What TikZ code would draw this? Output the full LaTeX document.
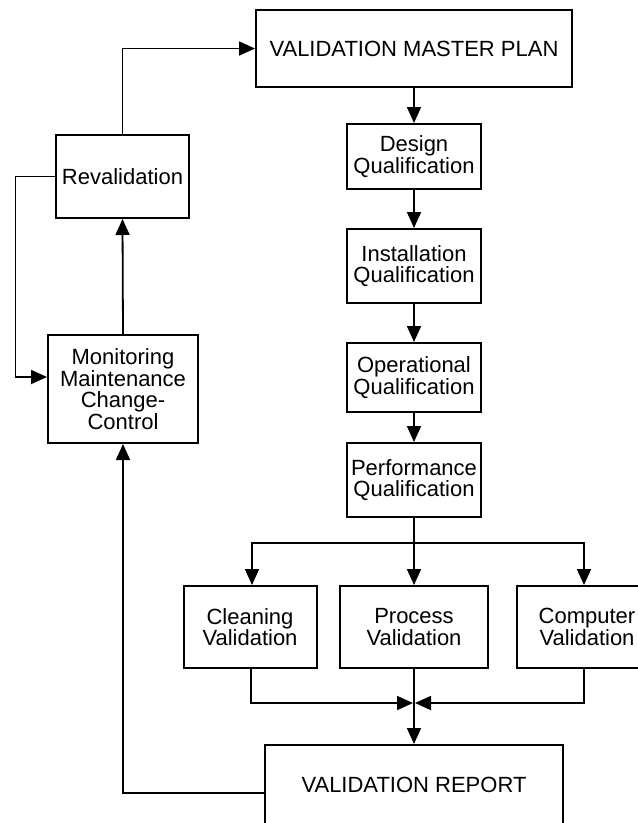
\documentclass[tikz,border=0pt]{standalone}
\usepackage{fontspec}
\setmainfont{Liberation Sans}
\usetikzlibrary{arrows.meta}
\begin{document}
\begin{tikzpicture}[x=1pt,y=-1pt,
  box/.style={draw, line width=2pt, align=center, inner sep=0pt, font=\fontsize{22}{21.5}\selectfont},
  conn/.style={line width=1.8pt},
  arr/.style={conn, -{Triangle[length=16pt,width=14pt]}}]
\useasboundingbox (0,0) rectangle (638,823);
\clip (0,0) rectangle (638,823);
\fill[white] (0,0) rectangle (638,823);

\node[box, minimum width=316pt, minimum height=77pt] (vmp) at (414,48.5) {VALIDATION MASTER PLAN};
\node[box, minimum width=134pt, minimum height=65pt] (dq) at (414,156.5) {Design\\Qualification};
\node[box, minimum width=134pt, minimum height=74pt] (iq) at (414,266) {Installation\\Qualification};
\node[box, minimum width=134pt, minimum height=69pt] (oq) at (414,377.5) {Operational\\Qualification};
\node[box, minimum width=134pt, minimum height=74pt] (pq) at (414,480) {Performance\\Qualification};

\node[box, minimum width=133pt, minimum height=83pt] (reval) at (122.5,176.5) {Revalidation};
\node[box, minimum width=150pt, minimum height=108pt] (mon) at (123,389) {Monitoring\\Maintenance\\Change-\\Control};

\node[box, minimum width=133pt, minimum height=82pt] (clean) at (250,627) {Cleaning\\Validation};
\node[box, minimum width=148pt, minimum height=82pt] (proc) at (414,627) {Process\\Validation};
\node[box, minimum width=140pt, minimum height=82pt] (comp) at (587,627) {Computer\\Validation};

\node[box, minimum width=298pt, minimum height=80pt] (rep) at (414,785) {VALIDATION REPORT};

\coordinate (split) at (414,543);
\coordinate (merge) at (414,703);
\coordinate (loopx) at (15.5,0);

\draw[arr] (vmp) -- (dq);
\draw[arr] (dq) -- (iq);
\draw[arr] (iq) -- (oq);
\draw[arr] (oq) -- (pq);

\draw[conn] (pq.south) -- (split);
\draw[arr] (split) -- (proc.north);
\draw[arr] (split) -| ([xshift=2pt]clean.north);
\draw[arr] (split) -| ([xshift=-3pt]comp.north);

\draw[arr] ([xshift=1pt]clean.south) |- ([xshift=-1pt]merge);
\draw[arr] ([xshift=-3pt]comp.south) |- ([xshift=1pt]merge);
\draw[arr] (proc.south) -- (rep.north);

\draw[arr] ([yshift=-8pt]rep.west) -| (mon.south);
\draw[arr] (mon.north) -- (reval.south);
\draw[arr] (reval.north) |- (vmp.west);
\draw[arr] (reval.west) -| (loopx |- reval.west) |- ([yshift=12pt]mon.west);
\end{tikzpicture}
\end{document}
